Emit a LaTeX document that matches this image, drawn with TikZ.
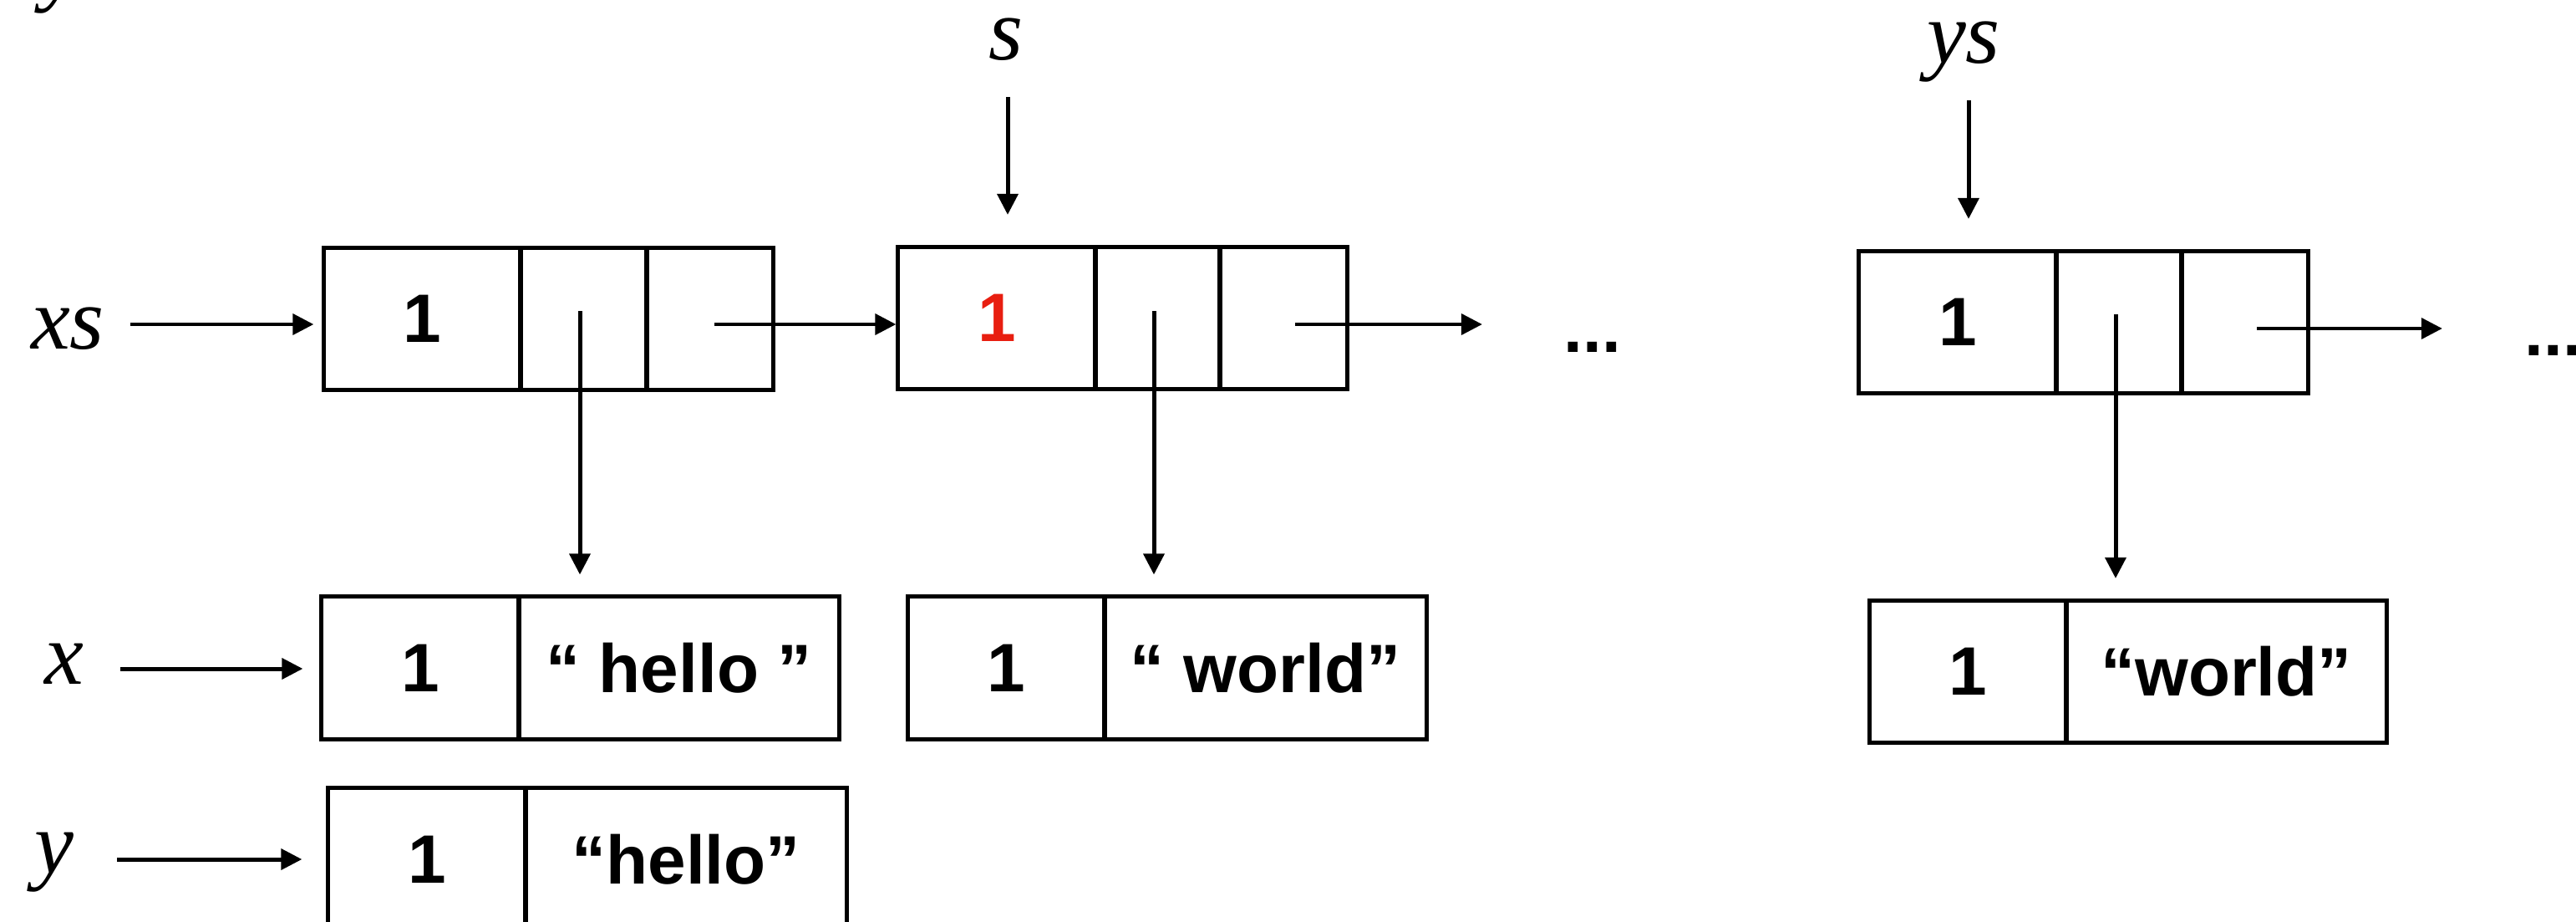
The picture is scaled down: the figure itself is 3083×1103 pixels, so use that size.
\documentclass[tikz,border=0pt]{standalone}
\usepackage{fontspec}
\setmainfont{Liberation Serif}
\newfontfamily\cellfont{Liberation Sans}
\usetikzlibrary{arrows.meta}
\definecolor{cntred}{RGB}{232,30,16}
\tikzset{
  cell/.style={draw, line width=1.42pt, inner sep=0pt, minimum height=1.70cm,
    font=\cellfont\bfseries\fontsize{23.3}{28}\selectfont},
  dotsty/.style={inner sep=0pt, font=\cellfont\bfseries\fontsize{23.3}{28}\selectfont},
  lbl/.style={anchor=base, inner sep=0pt, font=\itshape\fontsize{30}{36}\selectfont},
  arr/.style={line width=1.42pt, -{Triangle[length=0.25cm,width=0.245cm]}},
}
\begin{document}
\begin{tikzpicture}[x=0.01cm,y=-0.01cm]
\useasboundingbox (0,0) rectangle (3083,1103);

% labels
\node[lbl] (ytop) at (74,-7) {y};
\node[lbl] (xs) at (81,417) {xs};
\node[lbl] (s) at (1204,71) {s};
\node[lbl] (ys) at (2350,75) {ys};
\node[lbl] (xl) at (77,818) {x};
\node[lbl] (yl) at (65,1044) {y};

% list cell 1
\node[cell, minimum width=2.35cm] (b1a) at (505.5,381.5) {1};
\node[cell, minimum width=1.51cm] (b1b) at (698.5,381.5) {};
\node[cell, minimum width=1.51cm] (b1c) at (849.5,381.5) {};
% list cell 2
\node[cell, minimum width=2.36cm, text=cntred] (b2a) at (1193,380.5) {1};
\node[cell, minimum width=1.49cm] (b2b) at (1385.5,380.5) {};
\node[cell, minimum width=1.52cm] (b2c) at (1536,380.5) {};
% list cell 3
\node[cell, minimum width=2.36cm] (b3a) at (2343,385.5) {1};
\node[cell, minimum width=1.50cm] (b3b) at (2536,385.5) {};
\node[cell, minimum width=1.51cm] (b3c) at (2686.5,385.5) {};

% string objects
\node[cell, minimum width=2.36cm] (hxa) at (503,799) {1};
\node[cell, minimum width=3.83cm] (hxb) at (812.5,799) {“ hello ”};
\node[cell, minimum width=2.35cm] (wa) at (1204.5,799) {1};
\node[cell, minimum width=3.85cm] (wb) at (1514.5,799) {“ world”};
\node[cell, minimum width=2.35cm] (w3a) at (2355.5,803.5) {1};
\node[cell, minimum width=3.83cm] (w3b) at (2664.5,803.5) {“world”};
\node[cell, minimum width=2.36cm] (hya) at (511,1028) {1};
\node[cell, minimum width=3.84cm] (hyb) at (821,1028) {“hello”};

% dots
\node[dotsty, anchor=base] (dots1) at (1906,421) {...};
\node[dotsty, anchor=base west] (dots2) at (3021,425) {...};

% connector start points
\coordinate (xsA) at (156,388);
\coordinate (sA) at (1206,116);
\coordinate (ysA) at (2356,120);
\coordinate (xA) at (144,800);
\coordinate (yA) at (140,1028);
\coordinate (d1) at (694,372);
\coordinate (d2) at (1381,372);
\coordinate (d3) at (2532,376);
\coordinate (n1) at (855,388);
\coordinate (n2) at (1550,388);
\coordinate (n2e) at (1774,388);
\coordinate (n3) at (2701,393);
\coordinate (n3e) at (2923,393);

% connectors
\draw[arr, shorten >=0.10cm] (xsA) -- (xsA -| b1a.west);
\draw[arr, shorten >=0.36cm] (sA) -- (sA |- b2a.north);
\draw[arr, shorten >=0.36cm] (ysA) -- (ysA |- b3a.north);
\draw[arr, shorten >=0.20cm] (xA) -- (xA -| hxa.west);
\draw[arr, shorten >=0.29cm] (yA) -- (yA -| hya.west);
\draw[arr, shorten >=0.24cm] (d1) -- (d1 |- hxb.north);
\draw[arr, shorten >=0.24cm] (d2) -- (d2 |- wb.north);
\draw[arr, shorten >=0.24cm] (d3) -- (d3 |- w3b.north);
\draw[arr] (n1) -- (n1 -| b2a.west);
\draw[arr] (n2) -- (n2e);
\draw[arr] (n3) -- (n3e);
\end{tikzpicture}
\end{document}
